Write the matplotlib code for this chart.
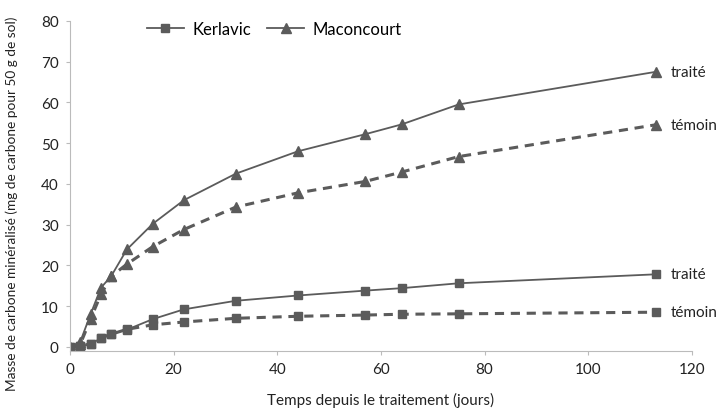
import matplotlib
matplotlib.use("Agg")
import matplotlib.pyplot as plt
from matplotlib.lines import Line2D

plt.rcParams['font.family'] = ['Lato', 'DejaVu Sans']

# days after treatment
jours = [0, 2, 4, 6, 8, 11, 16, 22, 32, 44, 57, 64, 75, 113]

# mg of mineralised carbon per 50 g of soil
kerlavic_traite = [0, 0.1, 0.7, 2.1, 3.2, 4.2, 6.8, 9.2, 11.3, 12.6, 13.8, 14.4, 15.6, 17.8]
kerlavic_temoin = [0, 0.1, 0.8, 2.2, 3.1, 4.3, 5.4, 6.1, 7.0, 7.5, 7.8, 8.0, 8.1, 8.5]
maconcourt_traite = [0, 1.2, 8.0, 14.5, 17.4, 23.9, 30.2, 36.0, 42.5, 48.0, 52.2, 54.6, 59.5, 67.5]
maconcourt_temoin = [0, 0.6, 6.8, 12.9, 17.3, 20.3, 24.6, 28.8, 34.3, 37.8, 40.6, 42.9, 46.7, 54.5]

gris = '#5b5b5b'

fig = plt.figure(figsize=(7.2, 4.14), dpi=100)
ax = fig.add_axes([0.097, 0.15, 0.864, 0.797])

ax.plot(jours, kerlavic_traite, '-', color=gris, lw=1.3, marker='s', ms=5.5)
ax.plot(jours, kerlavic_temoin, '--', color=gris, lw=2.2, dashes=(3, 2.2), marker='s', ms=5.5)
ax.plot(jours, maconcourt_traite, '-', color=gris, lw=1.3, marker='^', ms=6.5)
ax.plot(jours, maconcourt_temoin, '--', color=gris, lw=2.2, dashes=(3, 2.2), marker='^', ms=6.5)

for serie, txt in [(maconcourt_traite, 'traité'), (maconcourt_temoin, 'témoin'),
                   (kerlavic_traite, 'traité'), (kerlavic_temoin, 'témoin')]:
    ax.text(jours[-1] + 3, serie[-1], txt, fontsize=11, va='center', ha='left', color='#222222')

ax.set_xlim(0, 120)
ax.set_ylim(-1, 80)
ax.set_xticks(range(0, 121, 20))
ax.set_yticks(range(0, 81, 10))
ax.tick_params(labelsize=11, colors='#222222', length=3, color='#bbbbbb', pad=5)
for s in ['top', 'right']:
    ax.spines[s].set_visible(False)
for s in ['left', 'bottom']:
    ax.spines[s].set_color('#bbbbbb')

ax.set_xlabel('Temps depuis le traitement (jours)', fontsize=11, color='#222222')
ax.xaxis.set_label_coords(0.5, -0.125)
ax.set_ylabel('Masse de carbone minéralisé (mg de carbone pour 50 g de sol)', fontsize=9.8,
              color='#222222')
ax.yaxis.set_label_coords(-0.084, 0.45)

handles = [Line2D([], [], color=gris, lw=1.3, marker='s', ms=5.5),
           Line2D([], [], color=gris, lw=1.3, marker='^', ms=6.5)]
ax.legend(handles, ['Kerlavic', 'Maconcourt'], loc='upper left', bbox_to_anchor=(0.1, 1.045),
          ncol=2, frameon=False, fontsize=12, handlelength=2.2, columnspacing=1.0,
          handletextpad=0.5)

fig.savefig('out.png', dpi=100)
